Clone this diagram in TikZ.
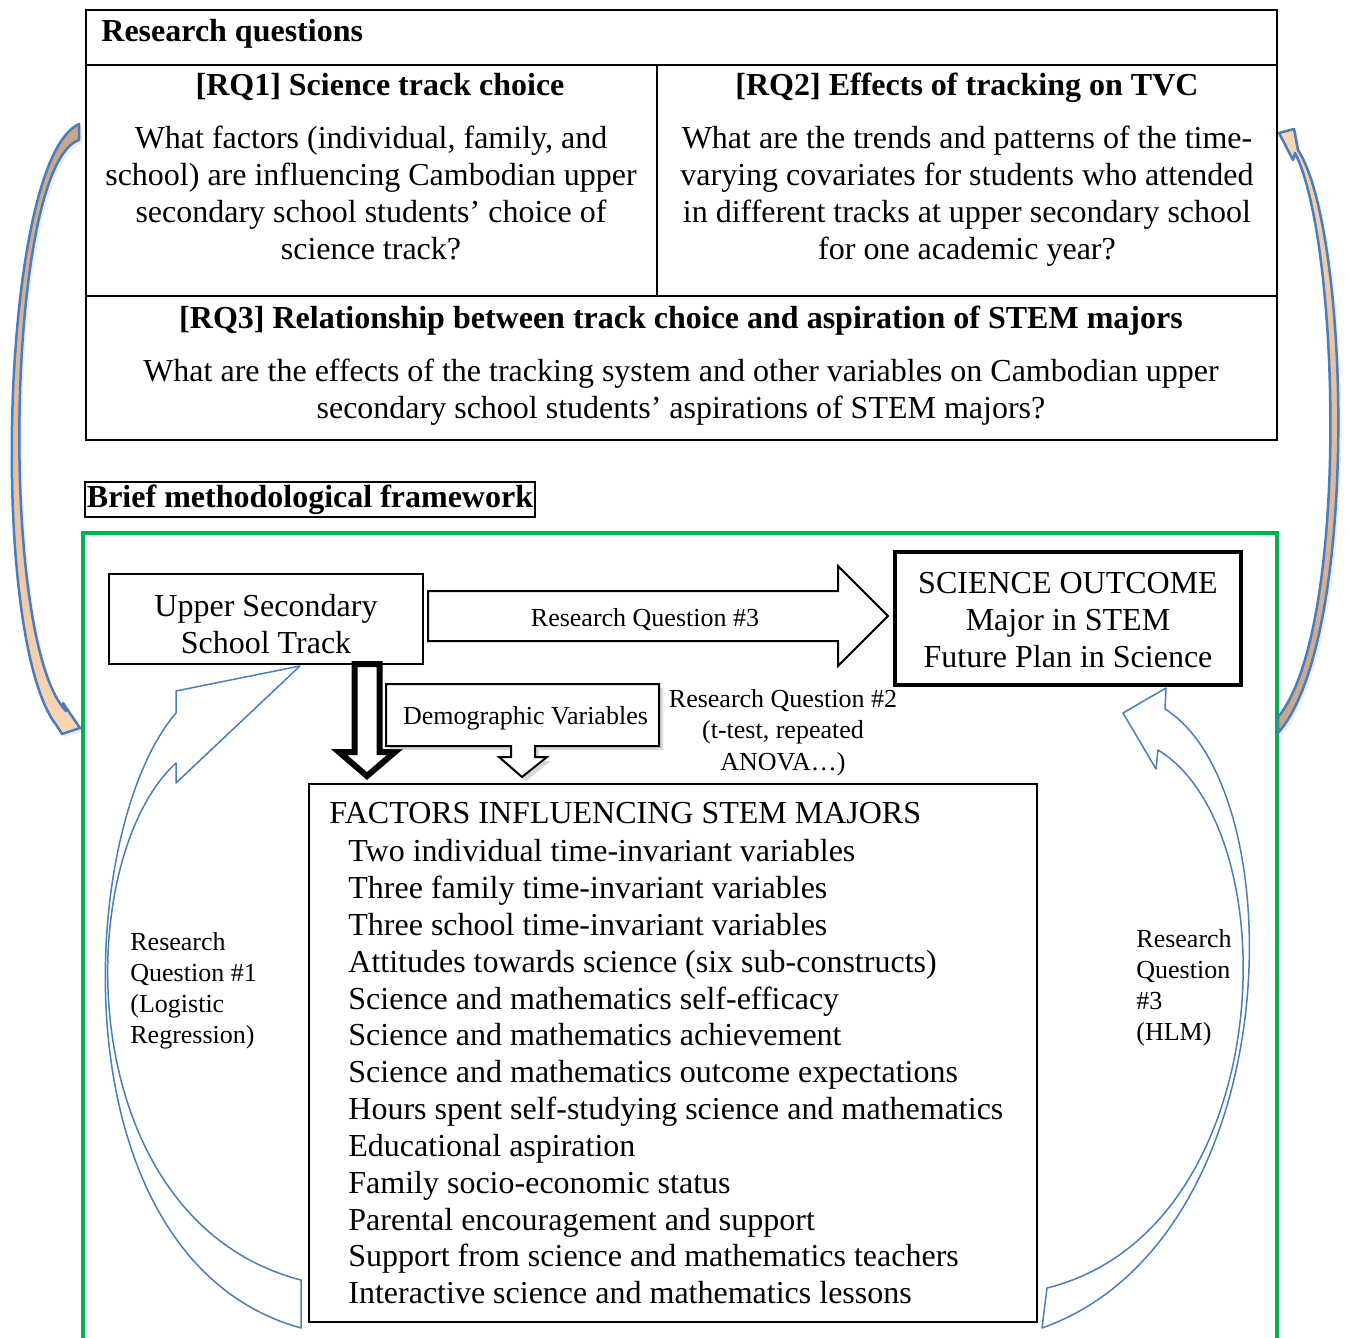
\documentclass[tikz,border=0pt]{standalone}
\usepackage{fontspec}
\setmainfont{Liberation Serif}
\usepackage{tikz}
\usetikzlibrary{positioning,calc,shadows}
\definecolor{framegreen}{RGB}{0,176,80}
\definecolor{arrowblue}{RGB}{74,126,187}
\definecolor{tanbrown}{RGB}{200,164,138}
\definecolor{peach}{RGB}{252,213,181}
\newcommand{\rqfont}{\fontsize{16}{18.5}\selectfont}
\newcommand{\lblfont}{\fontsize{13}{15.5}\selectfont}

\begin{document}
\begin{tikzpicture}[x=0.5pt,y=-0.5pt,
    box/.style={draw,line width=1pt,inner sep=0pt},
    txt/.style={inner sep=0pt,font=\rqfont},
    lbl/.style={inner sep=0pt,font=\lblfont},
    bigcurve/.style={draw=arrowblue,line width=1.25pt,line join=round},
    thincurve/.style={draw=arrowblue,fill=white,line width=0.75pt,line join=round}]
  \useasboundingbox (0,0) rectangle (1349,1338);

  % research questions table
  \draw[line width=1pt] (86,10) rectangle (1277,440);
  \draw[line width=1pt] (86,65) -- (1277,65) (657,65) -- (657,296) (86,296) -- (1277,296);
  \node[txt,font=\rqfont\bfseries,anchor=base west] (rqtitle) at (101,41.6) {Research questions};
  \node[txt,font=\rqfont\bfseries,anchor=base] (rq1head) at (380,95.6) {[RQ1] Science track choice};
  \node[txt,align=center,anchor=north] (rq1body) at (371,125.5)
    {What factors (individual, family, and\\school) are influencing Cambodian upper\\secondary school students’ choice of\\science track?};
  \node[txt,font=\rqfont\bfseries,anchor=base] (rq2head) at (967,95.6) {[RQ2] Effects of tracking on TVC};
  \node[txt,align=center,anchor=north] (rq2body) at (967,125.5)
    {What are the trends and patterns of the time-\\varying covariates for students who attended\\in different tracks at upper secondary school\\for one academic year?};
  \node[txt,font=\rqfont\bfseries,anchor=base] (rq3head) at (681,328.6)
    {[RQ3] Relationship between track choice and aspiration of STEM majors};
  \node[txt,align=center,anchor=north] (rq3body) at (681,358.5)
    {What are the effects of the tracking system and other variables on Cambodian upper\\secondary school students’ aspirations of STEM majors?};

  % framework
  \node[draw,line width=1pt,font=\rqfont\bfseries,inner xsep=1pt,inner ysep=1.5pt] (brief) at (310,499.5) {Brief methodological framework};
  \draw[framegreen,line width=2pt] (83,1350) -- (83,533) -- (1277,533) -- (1277,1350);

  % outer arrows
  \draw[bigcurve,top color=tanbrown,bottom color=peach,drop shadow={opacity=0.15,shadow xshift=1.5pt,shadow yshift=-1.5pt}]
    (79,124) .. controls (0,160) and (-12,640) .. (57,726) -- (62,734) -- (80,728) -- (63,703) -- (66,711)
    .. controls (-2,640) and (6,165) .. (79,140) -- cycle;
  \draw[bigcurve,top color=peach,bottom color=tanbrown,drop shadow={opacity=0.15,shadow xshift=1.5pt,shadow yshift=-1.5pt}]
    (1278,733) .. controls (1360,640) and (1350,230) .. (1298,150) -- (1294,129) -- (1279,133) -- (1293,160) -- (1295,153)
    .. controls (1340,240) and (1350,630) .. (1278,717) -- cycle;

  % boxes
  \node[box,minimum width=157pt,minimum height=45pt] (track) at (266,619) {};
  \node[txt,align=center,anchor=north] (tracktxt) at (266,593.5) {Upper Secondary\\School Track};
  \node[box,line width=1.75pt,minimum width=173pt,minimum height=66.5pt] (outcome) at (1068,618.5) {};
  \node[txt,align=center,anchor=north] (outcometxt) at (1068,571.5) {SCIENCE OUTCOME\\Major in STEM\\Future Plan in Science};

  \draw[line width=1pt,fill=white] (428,591) -- (838,591) -- (838,566) -- (888,616) -- (838,666) -- (838,641) -- (428,641) -- cycle;
  \node[lbl,anchor=base] (rq3arrow) at (645,626.6) {Research Question \#3};

  \draw[line width=3pt,fill=white] (354.5,664) -- (354.5,752) -- (339,752) -- (367,776) -- (395,752) -- (379.5,752) -- (379.5,664) -- cycle;

  \draw[line width=1pt,fill=white,drop shadow={opacity=0.3,shadow xshift=2pt,shadow yshift=-2pt}]
    (386,684) -- (659,684) -- (659,746) -- (535,746) -- (535,757) -- (547,757) -- (522,777)
    -- (499,757) -- (511,757) -- (511,746) -- (386,746) -- cycle;
  \node[lbl,anchor=base] (demo) at (525.5,724.6) {Demographic Variables};

  \node[lbl,align=center,anchor=north,font=\fontsize{13}{15.75}\selectfont] (rq2lbl) at (783,688.6)
    {Research Question \#2\\(t-test, repeated\\ANOVA…)};

  \node[box,minimum width=364pt,minimum height=269pt] (factors) at (673,1053) {};
  \node[txt,anchor=base west] (factitle) at (329,823.6) {FACTORS INFLUENCING STEM MAJORS};
  \foreach \fac [count=\i] in {Two individual time-invariant variables,
      Three family time-invariant variables,
      Three school time-invariant variables,
      Attitudes towards science (six sub-constructs),
      Science and mathematics self-efficacy,
      Science and mathematics achievement,
      Science and mathematics outcome expectations,
      Hours spent self-studying science and mathematics,
      Educational aspiration,
      Family socio-economic status,
      Parental encouragement and support,
      Support from science and mathematics teachers,
      Interactive science and mathematics lessons}{
    \node[txt,anchor=base west] (fac\i) at (348,{861.6+36.85*(\i-1)}) {\fac};
  }

  % inner curved arrows
  \draw[thincurve] (300,666) -- (176,691) -- (176,713) .. controls (75,830) and (55,1260) .. (301,1328)
    -- (301,1280) .. controls (70,1220) and (70,860) .. (176,763) -- (176,783) -- cycle;
  \node[lbl,align=left,anchor=north west] (rq1lbl) at (130,931.6) {Research\\Question \#1\\(Logistic\\Regression)};

  \draw[thincurve] (1166,688) -- (1165,709) .. controls (1295,790) and (1290,1240) .. (1042,1328)
    -- (1047,1288) .. controls (1280,1230) and (1290,830) .. (1158,750) -- (1156,769) -- (1123,713) -- cycle;
  \node[lbl,align=left,anchor=north west] (rq3lbl) at (1136,928.6) {Research\\Question\\\#3\\(HLM)};
\end{tikzpicture}
\end{document}
